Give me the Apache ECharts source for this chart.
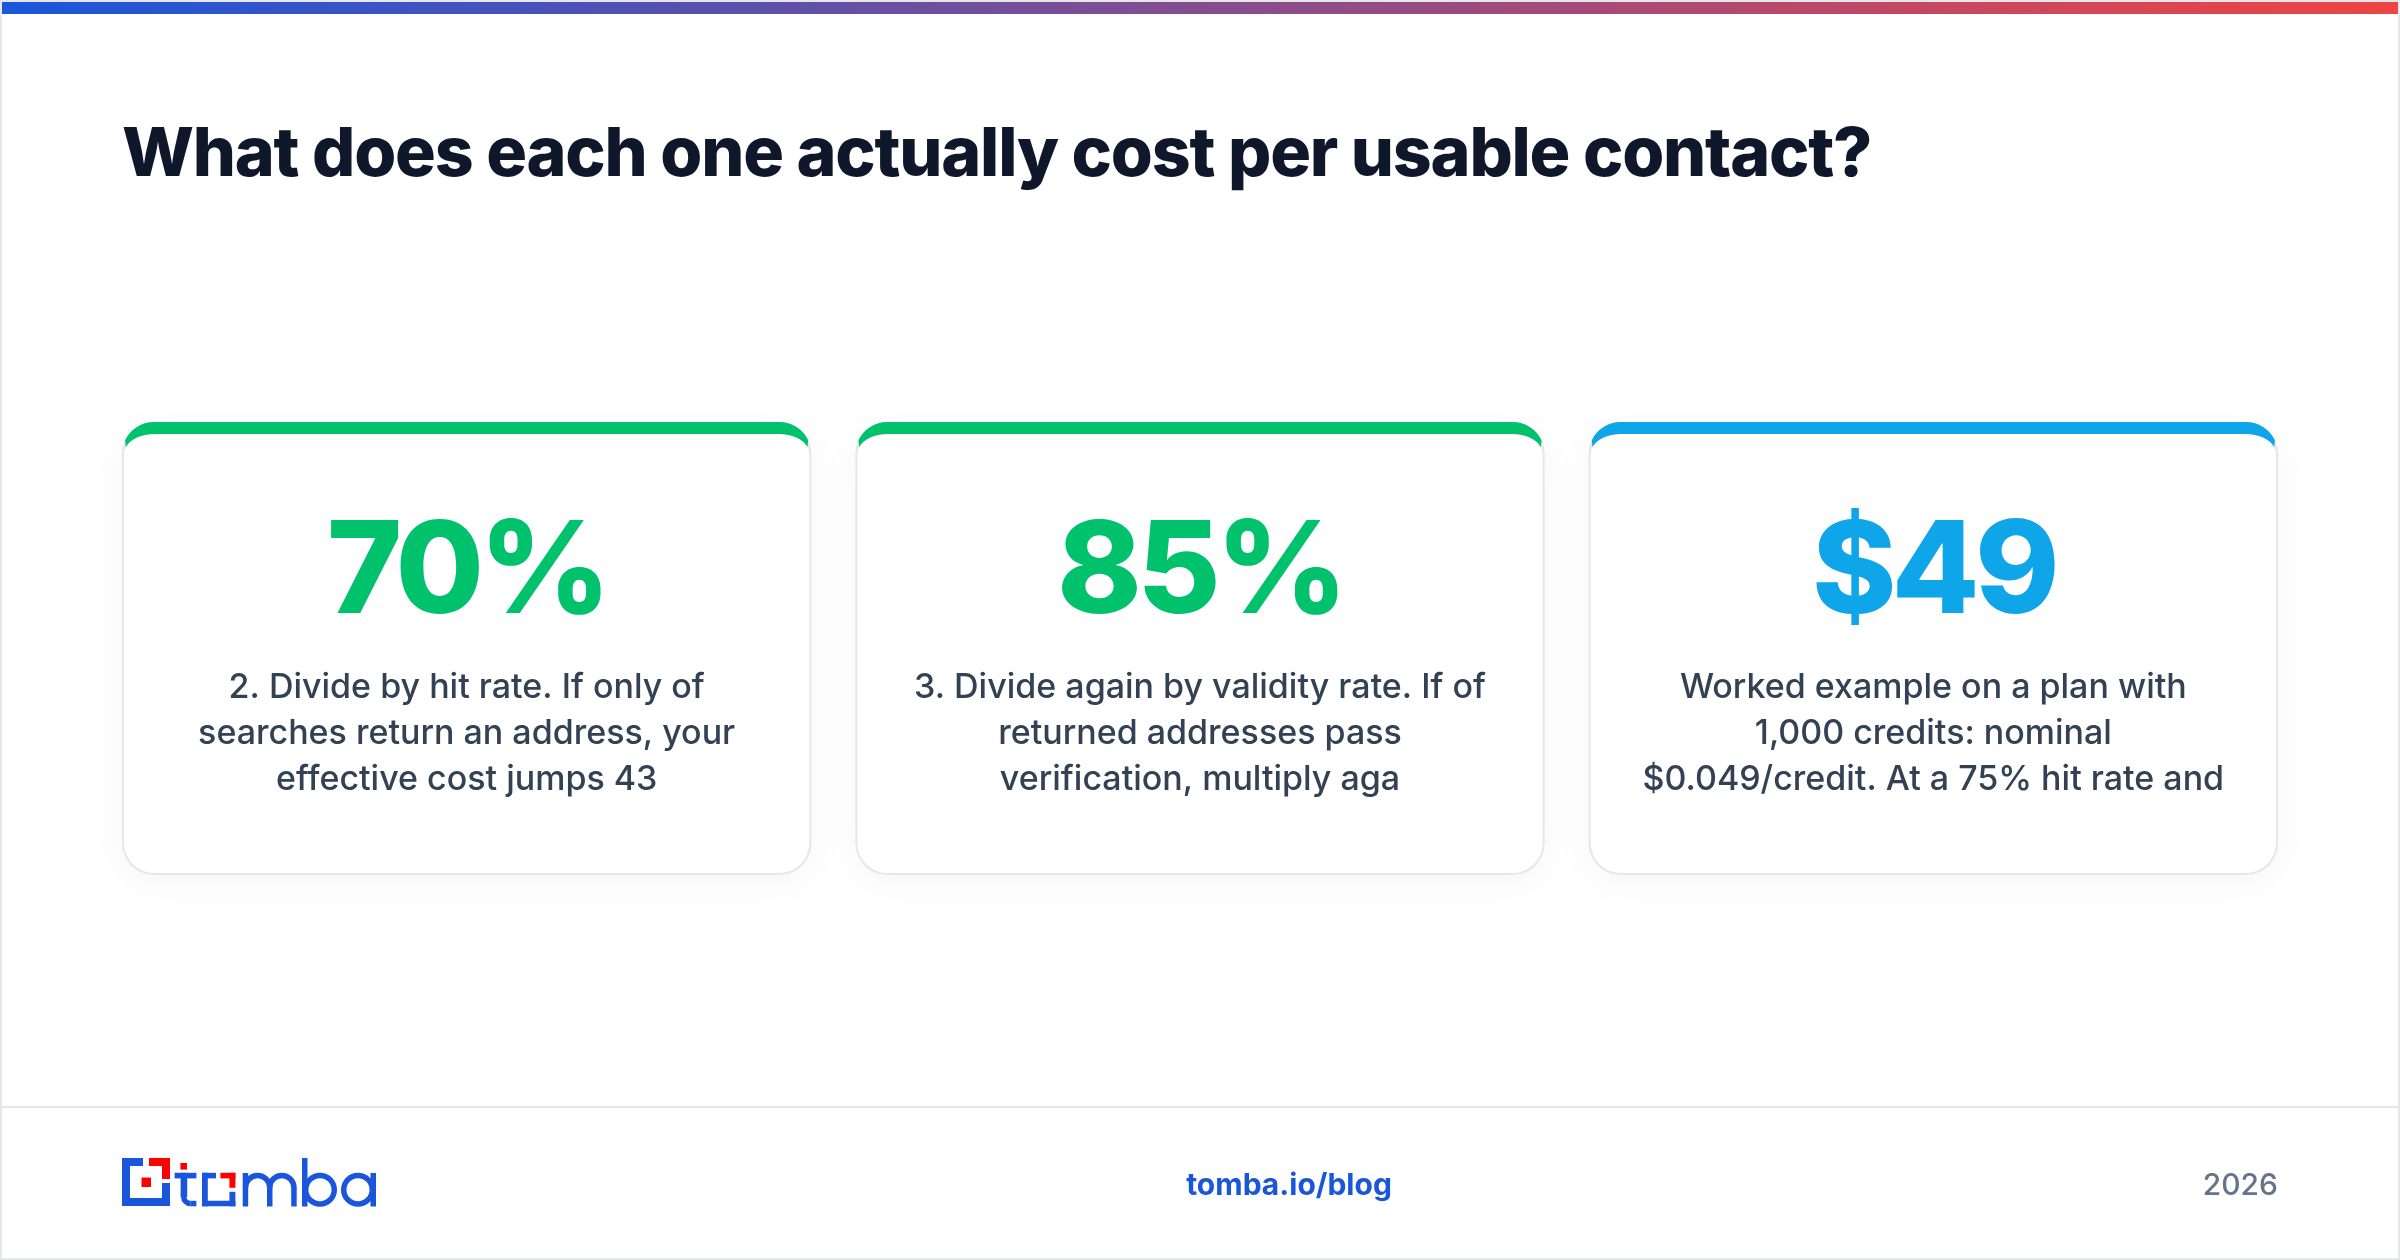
<!DOCTYPE html>
<html>
<head>
<meta charset="utf-8">
<title>Cost per usable contact</title>
<script src="https://cdn.jsdelivr.net/npm/echarts@6/dist/echarts.min.js"></script>
<style>
  html, body { margin: 0; padding: 0; background: #fff; }
  /* the slide is laid out at 1200x630 and shown at 2x */
  #chart { width: 1200px; height: 630px; zoom: 2; }
</style>
</head>
<body>
<div id="chart"></div>
<script>
const titleText = 'What does each one actually cost per usable contact?';
const categories = ['Hit rate', 'Validity rate', 'Worked example'];
const statValues = [70, 85, 49];
const statPrefix = ['', '', '$'];
const statSuffix = ['%', '%', ''];
const statColors = ['#00c26d', '#00c26d', '#0ea5e9'];
const descLines = [
  ['2. Divide by hit rate. If only of', 'searches return an address, your', 'effective cost jumps 43'],
  ['3. Divide again by validity rate. If of', 'returned addresses pass', 'verification, multiply aga'],
  ['Worked example on a plan with', '1,000 credits: nominal', '$0.049/credit. At a 75% hit rate and']
];
const footerLink = 'tomba.io/blog';
const footerYear = '2026';

const FONT = 'Inter, "Noto Sans", sans-serif';
const BLUE = '#1a56db';
const RED = '#ff0000';
const BORDER = '#e5e7eb';

// zrender has no letter spacing option, the big headings need it
const spacingBySize = { '34px': '-0.6px', '64px': '-2.4px' };
const fillTextOrig = CanvasRenderingContext2D.prototype.fillText;
CanvasRenderingContext2D.prototype.fillText = function (...args) {
  const size = (this.font.match(/\d+px/) || [])[0];
  this.letterSpacing = spacingBySize[size] || '0px';
  return fillTextOrig.apply(this, args);
};

const chart = echarts.init(document.getElementById('chart'), null, { width: 1200, height: 630, devicePixelRatio: 2 });

function renderCard(params, api) {
  const i = api.value(0);
  const w = 344.65;
  const cx = api.coord([i, 0])[0];
  const top = params.coordSys.y;
  const bottom = top + params.coordSys.height;
  const l = cx - w / 2;
  const r = cx + w / 2;
  const R = 16;
  const color = statColors[i];

  // outer shape, then inner with the css border radii, then the top border crescent
  const outer = `M${l + R} ${top}H${r - R}A${R} ${R} 0 0 1 ${r} ${top + R}V${bottom - R}A${R} ${R} 0 0 1 ${r - R} ${bottom}H${l + R}A${R} ${R} 0 0 1 ${l} ${bottom - R}V${top + R}A${R} ${R} 0 0 1 ${l + R} ${top}Z`;
  const inner = `M${l + R} ${top + 6}H${r - R}A15 10 0 0 1 ${r - 1} ${top + R}V${bottom - R}A15 15 0 0 1 ${r - R} ${bottom - 1}H${l + R}A15 15 0 0 1 ${l + 1} ${bottom - R}V${top + R}A15 10 0 0 1 ${l + R} ${top + 6}Z`;
  const crescent = `M${l + R} ${top}H${r - R}A${R} ${R} 0 0 1 ${r - 1.53} ${top + 9.17}L${r - 1.95} ${top + 12.5}A15 10 0 0 0 ${r - R} ${top + 6}H${l + R}A15 10 0 0 0 ${l + 1.95} ${top + 12.5}L${l + 1.53} ${top + 9.17}A${R} ${R} 0 0 1 ${l + R} ${top}Z`;

  const children = [
    { type: 'path', shape: { pathData: outer }, style: { fill: BORDER, shadowColor: 'rgba(15,23,42,0.04)', shadowBlur: 20, shadowOffsetY: 4 } },
    { type: 'path', shape: { pathData: inner }, style: { fill: '#fff' } },
    { type: 'path', shape: { pathData: crescent }, style: { fill: color } },
    {
      type: 'text',
      style: {
        text: statPrefix[i] + api.value(1) + statSuffix[i],
        x: cx, y: top + 76.5,
        align: 'center', verticalAlign: 'middle',
        fontFamily: FONT, fontSize: 64, fontWeight: 800, fill: color
      }
    }
  ];
  descLines[i].forEach((line, n) => {
    children.push({
      type: 'text',
      style: {
        text: line,
        x: cx, y: top + 133 + n * 23,
        align: 'center', verticalAlign: 'middle',
        fontFamily: FONT, fontSize: 17, fontWeight: 500, fill: '#334155'
      }
    });
  });
  return { type: 'group', children };
}

function box(x, y, width, height, fill) {
  return { type: 'rect', silent: true, shape: { x, y, width, height }, style: { fill } };
}
function blueLine(type, shape) {
  return { type, silent: true, shape, style: { fill: 'none', stroke: BLUE, lineWidth: 2.75 } };
}

const logo = [
  box(61, 579, 10.5, 4, BLUE), box(61, 579, 4, 24, BLUE), box(61, 599, 24, 4, BLUE), box(81, 591.5, 4, 11.5, BLUE),
  box(74.5, 579, 10.5, 4, RED), box(81, 579, 4, 10.5, RED), box(70.75, 588.75, 4.75, 4.75, RED),
  // t
  box(90.2, 581.5, 3.3, 3.3, RED), box(87.3, 586.4, 10.9, 2.8, BLUE), box(90.3, 586.4, 3.3, 12.1, BLUE),
  blueLine('arc', { cx: 95.2, cy: 598.5, r: 3.3, startAngle: Math.PI, endAngle: Math.PI / 2, clockwise: false }),
  box(95.2, 600.4, 3, 2.75, BLUE),
  // o
  box(101, 586.4, 7, 2.8, BLUE), box(101, 586.4, 2.9, 16.75, BLUE), box(101, 600.4, 16.7, 2.75, BLUE), box(114.7, 595.9, 3, 7.25, BLUE),
  box(110.2, 586.4, 7.5, 2.8, RED), box(114.7, 586.4, 3, 7.5, RED),
  // m
  box(121.35, 586.5, 2.75, 16.75, BLUE), box(133.5, 593.5, 2.75, 9.75, BLUE), box(145.6, 593.5, 2.75, 9.75, BLUE),
  blueLine('arc', { cx: 128.8, cy: 593.75, r: 6.05, startAngle: Math.PI, endAngle: 2 * Math.PI, clockwise: true }),
  blueLine('arc', { cx: 140.9, cy: 593.75, r: 6.05, startAngle: Math.PI, endAngle: 2 * Math.PI, clockwise: true }),
  // b
  box(151, 579, 2.75, 24.25, BLUE),
  blueLine('circle', { cx: 160, cy: 594.85, r: 7.15 }),
  // a
  box(185.25, 586.5, 2.75, 16.75, BLUE),
  blueLine('circle', { cx: 179, cy: 594.85, r: 7.15 })
];

chart.setOption({
  animation: false,
  backgroundColor: '#fff',
  title: {
    text: titleText,
    left: 61,
    top: 57.8,
    padding: 0,
    textStyle: { fontFamily: FONT, fontSize: 34, fontWeight: 800, color: '#0f172a', lineHeight: 40 }
  },
  grid: { left: 50, right: 50, top: 211, bottom: 192.5 },
  xAxis: { type: 'category', data: categories, show: false },
  yAxis: { type: 'value', min: 0, max: 100, show: false },
  series: [{
    type: 'custom',
    coordinateSystem: 'cartesian2d',
    clip: false,
    silent: true,
    encode: { x: 0, y: 1 },
    data: statValues.map((v, i) => [i, v]),
    renderItem: renderCard
  }],
  graphic: { elements: [
    { type: 'rect', silent: true, z: 10, shape: { x: 0.5, y: 0.5, width: 1199, height: 629 }, style: { fill: 'none', stroke: BORDER, lineWidth: 1 } },
    {
      type: 'rect', silent: true, z: 11,
      shape: { x: 1, y: 1, width: 1198, height: 6 },
      style: { fill: new echarts.graphic.LinearGradient(0, 0, 1, 0, [{ offset: 0, color: BLUE }, { offset: 1, color: '#ef4444' }]) }
    },
    box(1, 553, 1198, 1, BORDER),
    ...logo,
    {
      type: 'text', silent: true,
      style: { text: footerLink, x: 644.5, y: 592.8, align: 'center', verticalAlign: 'middle', fontFamily: FONT, fontSize: 15, fontWeight: 700, fill: BLUE }
    },
    {
      type: 'text', silent: true,
      style: { text: footerYear, x: 1139, y: 592.8, align: 'right', verticalAlign: 'middle', fontFamily: FONT, fontSize: 15, fontWeight: 500, fill: '#64748b' }
    }
  ] }
});
</script>
</body>
</html>
